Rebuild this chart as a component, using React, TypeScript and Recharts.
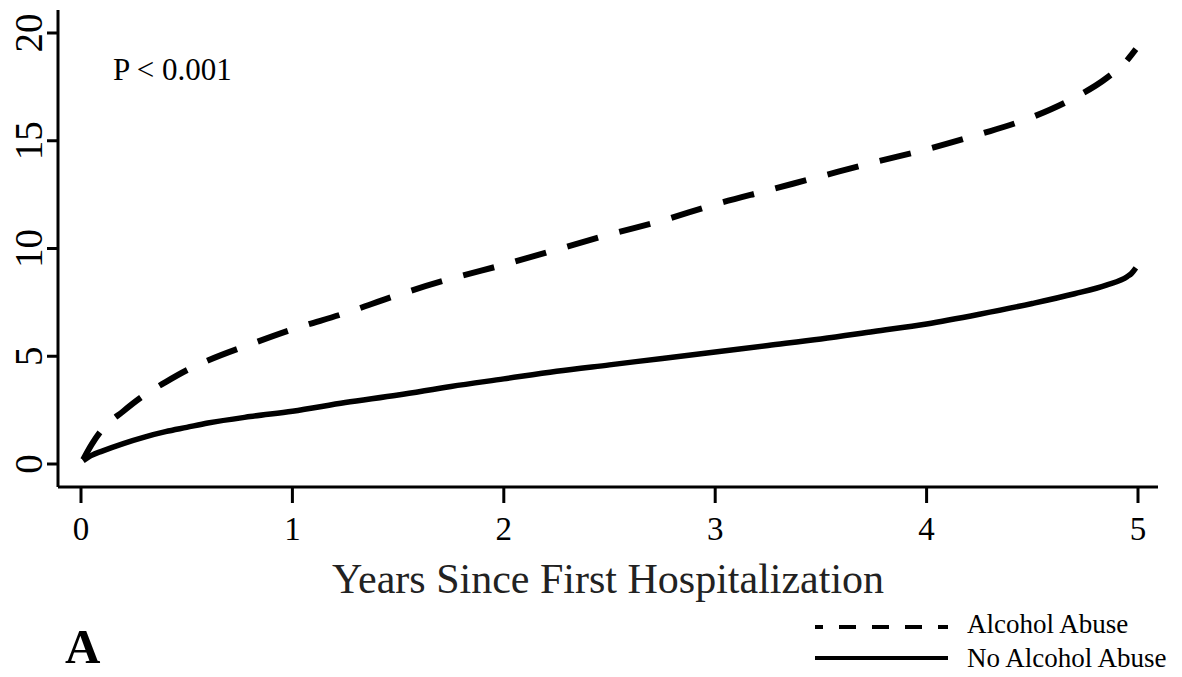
import React from "react";
import { LineChart, Line, XAxis, YAxis, Label } from "recharts";

// years since first hospitalization (x positions shared by both curves)
const years = [
  0.01, 0.05, 0.1, 0.2, 0.3, 0.4, 0.5, 0.6, 0.8, 1.0, 1.25, 1.5, 1.75, 2.0, 2.25,
  2.5, 2.75, 3.0, 3.25, 3.5, 3.75, 4.0, 4.25, 4.5, 4.7, 4.85, 4.95, 4.97, 4.99,
];

// cumulative incidence
const alcoholAbuse = [
  0.2, 0.9, 1.6, 2.45, 3.2, 3.8, 4.35, 4.8, 5.55, 6.25, 7.0, 7.85, 8.6, 9.25, 9.95,
  10.65, 11.3, 12.05, 12.7, 13.35, 14.0, 14.6, 15.3, 16.1, 17.0, 17.9, 18.75, 19.0, 19.25,
];
const noAlcoholAbuse = [
  0.15, 0.4, 0.6, 0.95, 1.25, 1.5, 1.7, 1.9, 2.2, 2.45, 2.85, 3.2, 3.6, 3.95, 4.3,
  4.6, 4.9, 5.2, 5.5, 5.8, 6.15, 6.5, 6.95, 7.45, 7.9, 8.3, 8.7, 8.85, 9.1,
];

const xTicks = [0, 1, 2, 3, 4, 5];
const yTicks = [0, 5, 10, 15, 20];

const SERIF = "'Liberation Serif', 'DejaVu Serif', serif";

const data = years.map((t, i) => ({
  t,
  alcohol: alcoholAbuse[i],
  noAlcohol: noAlcoholAbuse[i],
}));

const YTick = ({ y, payload }: any) => (
  <text
    x={42}
    y={y}
    transform={`rotate(-90, 42, ${y})`}
    textAnchor="middle"
    fontFamily={SERIF}
    fontSize={39}
    fill="#000"
  >
    {payload.value}
  </text>
);

const XTick = ({ x, y, payload }: any) => (
  <text x={x} y={y + 35} textAnchor="middle" fontFamily={SERIF} fontSize={33} fill="#000">
    {payload.value}
  </text>
);

export default function App() {
  return (
    <div style={{ position: "absolute", left: 0, top: 0, width: 1182, height: 677, background: "#fff" }}>
      <LineChart width={1182} height={677} data={data} margin={{ top: 10, right: 24, left: 0, bottom: 0 }}>
        <XAxis
          dataKey="t"
          type="number"
          domain={[-0.1088, 5.0946]}
          ticks={xTicks}
          allowDataOverflow
          height={190}
          axisLine={{ stroke: "#000", strokeWidth: 3 }}
          tickLine={{ stroke: "#000", strokeWidth: 3 }}
          tickSize={16}
          tick={<XTick />}
        >
          <Label
            content={({ viewBox }: any) => (
              <text
                x={viewBox.x + viewBox.width / 2}
                y={viewBox.y + 106}
                textAnchor="middle"
                fontFamily={SERIF}
                fontSize={42}
                fill="#222"
              >
                Years Since First Hospitalization
              </text>
            )}
          />
        </XAxis>
        <YAxis
          type="number"
          domain={[-1.067, 21.067]}
          ticks={yTicks}
          allowDataOverflow
          width={58}
          axisLine={{ stroke: "#000", strokeWidth: 3 }}
          tickLine={{ stroke: "#000", strokeWidth: 3 }}
          tickSize={11}
          tick={<YTick />}
        />
        <Line
          dataKey="alcohol"
          name="Alcohol Abuse"
          type="monotone"
          stroke="#000"
          strokeWidth={6}
          strokeDasharray="32 22"
          dot={false}
          activeDot={false}
          isAnimationActive={false}
        />
        <Line
          dataKey="noAlcohol"
          name="No Alcohol Abuse"
          type="monotone"
          stroke="#000"
          strokeWidth={5.5}
          dot={false}
          activeDot={false}
          isAnimationActive={false}
        />
      </LineChart>
      {/* annotation, panel letter and legend */}
      <svg width={1182} height={677} style={{ position: "absolute", left: 0, top: 0, pointerEvents: "none" }}>
        <text x={113} y={80} fontFamily={SERIF} fontSize={31} fill="#000">P &lt; 0.001</text>
        <text x={65} y={663} fontFamily={SERIF} fontSize={49} fontWeight="bold" fill="#000">A</text>
        <line x1={815} y1={627} x2={948} y2={627} stroke="#000" strokeWidth={4} strokeDasharray="8 16 17 16 17 16 17 16 17" />
        <text x={967} y={633} fontFamily={SERIF} fontSize={27} fill="#000">Alcohol Abuse</text>
        <line x1={815} y1={658} x2={948} y2={658} stroke="#000" strokeWidth={4} />
        <text x={967} y={667} fontFamily={SERIF} fontSize={27} fill="#000">No Alcohol Abuse</text>
      </svg>
    </div>
  );
}
